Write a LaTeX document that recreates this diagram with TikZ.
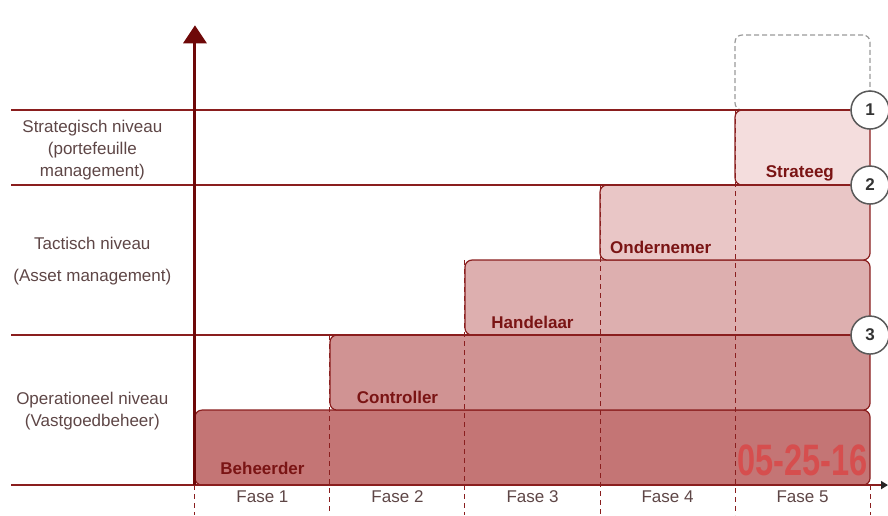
\documentclass[tikz,border=0pt]{standalone}
\usepackage{fontspec}
\setmainfont{Liberation Sans}
\usetikzlibrary{calc,arrows.meta,positioning}
\definecolor{lineRed}{HTML}{8A1E1E}
\definecolor{axisRed}{HTML}{6E0808}
\definecolor{roleRed}{HTML}{7A1414}
\definecolor{labelGrey}{HTML}{5E4646}
\definecolor{barA}{HTML}{C47575}
\definecolor{barB}{HTML}{D09393}
\definecolor{barC}{HTML}{DDAFAF}
\definecolor{barD}{HTML}{E9C6C6}
\definecolor{barE}{HTML}{F4DDDD}
\definecolor{stampRed}{HTML}{E03A3A}
\newcommand{\ColW}{135pt}
\newcommand{\RowH}{75pt}
\tikzset{Bar/.style={
    anchor=south west,
    inner sep=0pt,
    outer sep=0pt,
    minimum height=\RowH,
    draw=lineRed,
    line width=1.2pt,
    rounded corners=7pt,
    }
}

\begin{document}
\begin{tikzpicture}[x=\ColW, y=\RowH,
    Role/.style={font=\fontsize{17}{20}\selectfont\bfseries, text=roleRed},
    Level/.style={draw=lineRed, line width=2pt},
    Phase/.style={draw=lineRed, line width=1pt, dash pattern=on 5pt off 4pt},
    Niveau/.style={font=\fontsize{17}{22}\selectfont, text=labelGrey, align=center},
    Fase/.style={font=\fontsize{17}{20}\selectfont, text=labelGrey},
    Num/.style={circle, draw=black!65, line width=1.5pt, fill=white,
        minimum size=38pt, inner sep=0pt, text=black!80,
        font=\fontsize{17}{17}\selectfont\bfseries},
]
\useasboundingbox (-1.444,-0.4) rectangle (5.133,6.467);
% role bars
\pgfmathsetmacro{\col}{1}; \pgfmathsetmacro{\row}{1};
\node [Bar,fill=barA,minimum width={(6-\col)*\ColW}] (bar1) at (\col-1,\row-1) {};
\pgfmathsetmacro{\col}{2}; \pgfmathsetmacro{\row}{2};
\node [Bar,fill=barB,minimum width={(6-\col)*\ColW}] (bar2) at (\col-1,\row-1) {};
\pgfmathsetmacro{\col}{3}; \pgfmathsetmacro{\row}{3};
\node [Bar,fill=barC,minimum width={(6-\col)*\ColW}] (bar3) at (\col-1,\row-1) {};
\pgfmathsetmacro{\col}{4}; \pgfmathsetmacro{\row}{4};
\node [Bar,fill=barD,minimum width={(6-\col)*\ColW}] (bar4) at (\col-1,\row-1) {};
\pgfmathsetmacro{\col}{5}; \pgfmathsetmacro{\row}{5};
\node [Bar,fill=barE,minimum width={(6-\col)*\ColW}] (bar5) at (\col-1,\row-1) {};
\node [Bar,draw=black!40,fill=none,line width=1.2pt,dash pattern=on 5pt off 3pt,minimum width=\ColW] (spare) at (4,5) {};
% phase borders
\coordinate (f0) at (0,-0.4);
\coordinate (f1) at (1,-0.4);
\coordinate (f2) at (2,-0.4);
\coordinate (f3) at (3,-0.4);
\coordinate (f4) at (4,-0.4);
\coordinate (f5) at (5,-0.4);
\draw [Phase] (bar1.south west) -- (f0);
\draw [Phase] (bar2.north west) -- (f1);
\draw [Phase] (bar3.north west) -- (f2);
\draw [Phase] (bar4.north west) -- (f3);
\draw [Phase] (bar5.north west) -- (f4);
\draw [Phase] (bar1.south east) -- (f5);
% levels
\node [Num] (n1) at (5,5) {1};
\node [Num] (n2) at (5,4) {2};
\node [Num] (n3) at (5,2) {3};
\coordinate (l1) at (-1.36,5);
\coordinate (l2) at (-1.36,4);
\coordinate (l3) at (-1.36,2);
\draw [Level] (l1) -- (n1);
\draw [Level] (l2) -- (n2);
\draw [Level] (l3) -- (n3);
% axes
\coordinate (origin) at (0,0);
\coordinate (ytop) at (0,6.13);
\coordinate (xleft) at (-1.36,0);
\coordinate (xright) at (5.133,0);
\draw [Level,-{Triangle[length=7pt,width=8pt,color=black!85]}] (xleft) -- (xright);
\draw [draw=axisRed,line width=3pt,-{Triangle[length=18pt,width=23pt]}] (origin) -- (ytop);
% texts
\node [Niveau] (strat) at (-0.76,4.47) {Strategisch niveau\\(portefeuille\\management)};
\node [Niveau] (tact) at (-0.76,2.99) {Tactisch niveau\\[10pt](Asset management)};
\node [Niveau] (oper) at (-0.76,0.98) {Operationeel niveau\\(Vastgoedbeheer)};
\node [Role] (beheerder) at (0.5,0.22) {Beheerder};
\node [Role] (controller) at (1.5,1.17) {Controller};
\node [Role] (handelaar) at (2.5,2.17) {Handelaar};
\node [Role] (ondernemer) at (3.45,3.17) {Ondernemer};
\node [Role] (strateeg) at (4.48,4.15) {Strateeg};
\node [Fase] (fase1) at (0.5,-0.16) {Fase 1};
\node [Fase] (fase2) at (1.5,-0.16) {Fase 2};
\node [Fase] (fase3) at (2.5,-0.16) {Fase 3};
\node [Fase] (fase4) at (3.5,-0.16) {Fase 4};
\node [Fase] (fase5) at (4.5,-0.16) {Fase 5};
\node [text=stampRed,opacity=0.65,xscale=0.74,font=\fontsize{44}{44}\selectfont\bfseries] (stamp) at (4.5,0.33) {05-25-16};
\end{tikzpicture}
\end{document}
